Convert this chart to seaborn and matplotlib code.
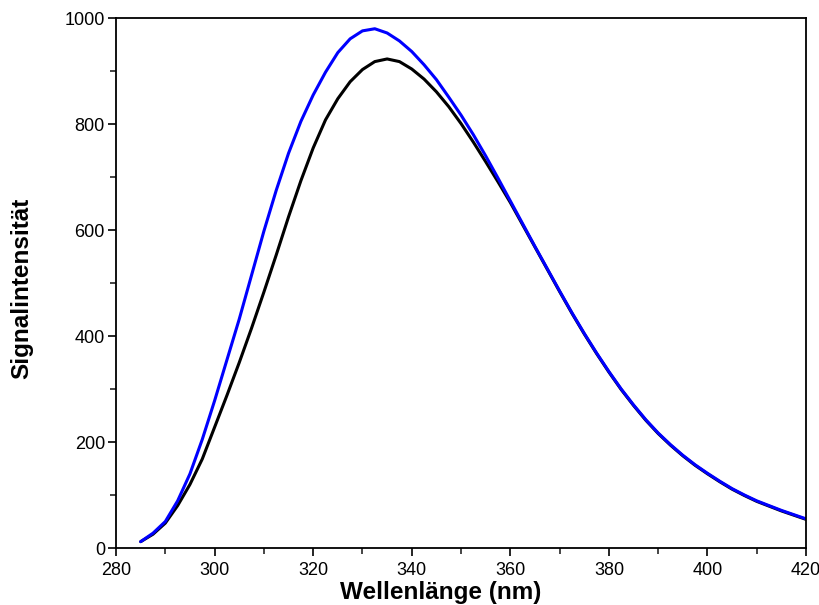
import numpy as np
import pandas as pd
import matplotlib
matplotlib.use("Agg")
import matplotlib.pyplot as plt
import seaborn as sns
from matplotlib.ticker import MultipleLocator

wavelength = [285, 287.5, 290, 292.5, 295, 297.5, 300, 302.5, 305, 307.5,
              310, 312.5, 315, 317.5, 320, 322.5, 325, 327.5, 330, 332.5,
              335, 337.5, 340, 342.5, 345, 347.5, 350, 352.5, 355, 357.5,
              360, 362.5, 365, 367.5, 370, 372.5, 375, 377.5, 380, 382.5,
              385, 387.5, 390, 392.5, 395, 397.5, 400, 402.5, 405, 407.5,
              410, 412.5, 415, 417.5, 420]

blue_signal = [12, 28, 50, 89, 140, 205, 278, 355, 432, 515,
               598, 675, 745, 805, 855, 898, 935, 961, 976, 980,
               972, 957, 937, 912, 884, 851, 817, 780, 740, 698,
               655, 612, 569, 527, 485, 444, 405, 368, 333, 300,
               270, 242, 217, 195, 175, 157, 141, 126, 112, 100,
               89, 80, 71, 63, 55]

black_signal = [12, 26, 47, 80, 120, 168, 228, 288, 350, 415,
                483, 553, 625, 693, 755, 808, 848, 880, 903, 918,
                923, 918, 904, 885, 861, 833, 801, 766, 729, 691,
                652, 610, 568, 526, 484, 443, 404, 367, 332, 299,
                269, 241, 216, 194, 174, 156, 140, 125, 111, 99,
                88, 79, 70, 62, 54]

df = pd.DataFrame({
    "x": wavelength * 2,
    "y": black_signal + blue_signal,
    "s": ["black"] * len(wavelength) + ["blue"] * len(wavelength),
})

sns.set_style("ticks")
plt.rcParams["font.family"] = ["Liberation Sans", "DejaVu Sans"]
plt.rcParams["text.color"] = "black"
plt.rcParams["axes.labelcolor"] = "black"

fig = plt.figure(figsize=(8.2, 6.05), dpi=100)
ax = fig.add_axes([0.1415, 0.0942, 0.8415, 0.8758])

sns.lineplot(data=df, x="x", y="y", hue="s",
             palette={"black": "#000000", "blue": "#0000ff"},
             linewidth=2.2, legend=False, ax=ax, sort=False)

ax.set_xlim(280, 420)
ax.set_ylim(0, 1000)
ax.xaxis.set_major_locator(MultipleLocator(20))
ax.xaxis.set_minor_locator(MultipleLocator(10))
ax.yaxis.set_major_locator(MultipleLocator(200))
ax.yaxis.set_minor_locator(MultipleLocator(100))

ax.tick_params(which="major", direction="out", length=6, width=1.2,
               labelsize=13, colors="black", top=False, right=False)
ax.tick_params(axis="y", which="major", pad=2)
ax.tick_params(axis="x", which="major", pad=4)
ax.tick_params(which="minor", direction="out", length=4, width=1.2,
               top=False, right=False)
for sp in ax.spines.values():
    sp.set_visible(True)
    sp.set_linewidth(1.3)
    sp.set_color("black")

ax.set_xlabel("Wellenlänge (nm)", fontsize=17.5, fontweight="bold")
ax.xaxis.set_label_coords(0.47, -0.062, transform=ax.transAxes)
ax.xaxis.label.set_va("top")
ax.set_ylabel("Signalintensität", fontsize=17.5, fontweight="bold")
ax.yaxis.set_label_coords(-0.12, 0.49, transform=ax.transAxes)

fig.savefig("out.png", dpi=100)
